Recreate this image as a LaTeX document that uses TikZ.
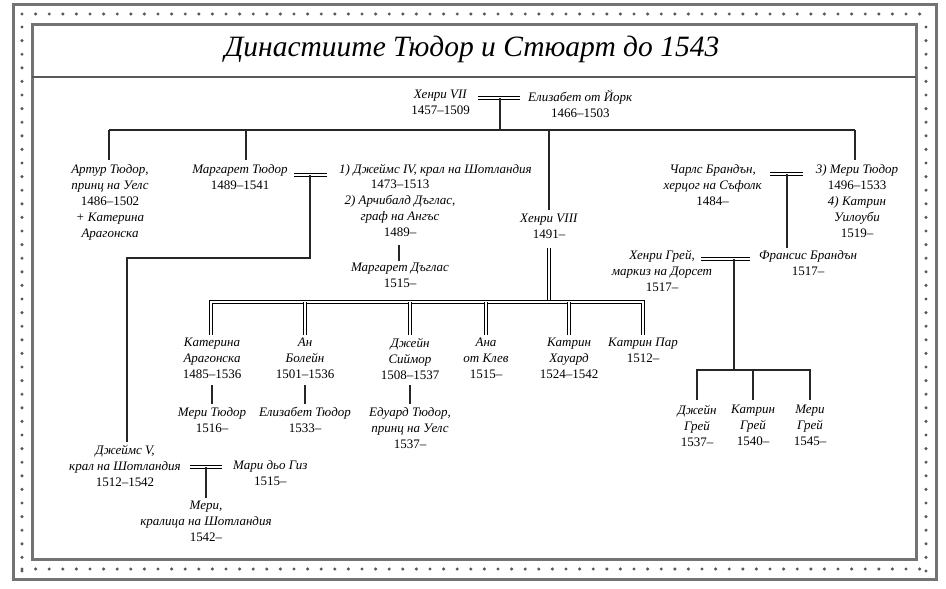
\documentclass[tikz,border=0pt]{standalone}
\usepackage{fontspec}
\setmainfont{Liberation Serif}
\newcommand{\nm}[1]{\textit{#1}}
\begin{document}
\begin{tikzpicture}[x=1pt,y=-1pt,
 t/.style={align=center,inner sep=0pt,font=\fontsize{13}{16}\selectfont},
 ln/.style={line width=1.4pt,black!85},
 mar/.style={line width=1pt,double,double distance=1.6pt},
 dl/.style={line width=1pt,double,double distance=2pt}]
\useasboundingbox (0,0) rectangle (946,589);
% frame
\draw[line width=3pt,black!55] (13,4) rectangle (936,579);
\draw[line width=3pt,black!55] (32,24) rectangle (916,559);
\foreach \i in {0,...,66} {
 \fill[black!65] (22+\i*13.6,14) circle (1.7pt);
 \fill[black!65] (22+\i*13.6,569) circle (1.7pt);}
\foreach \i in {0,...,40} {
 \fill[black!65] (22,27+\i*13.6) circle (1.7pt);
 \fill[black!65] (926,27+\i*13.6) circle (1.7pt);}
\draw[line width=1.2pt,black!65] (32,77) -- (916,77);
\node[inner sep=0pt,font=\fontsize{29.5}{32}\selectfont\itshape] (title) at (472,49) {Династиите Тюдор и Стюарт до 1543};
% generation 1
\node[t,anchor=north east] (h7) at (470,90) {\nm{Хенри VII}\\1457–1509};
\node[t,anchor=north west] (eliz) at (528,90) {\nm{Елизабет от Йорк}\\1466–1503};
\draw[mar] (478,98) -- (520,98);
\draw[ln] (500,98) -- (500,130);
\draw[ln] (109,130) -- (855,130);
\node[t,anchor=north] (arthur) at (110,164) {\nm{Артур Тюдор,}\\\nm{принц на Уелс}\\1486–1502\\\nm{+ Катерина}\\\nm{Арагонска}};
\node[t,anchor=north] (marg) at (240,164) {\nm{Маргарет Тюдор}\\1489–1541};
\node[t,anchor=north west] (j4a) at (339,164) {\nm{1) Джеймс IV, крал на Шотландия}};
\node[t,anchor=north] (j4) at (400,180) {1473–1513\\\nm{2) Арчибалд Дъглас,}\\\nm{граф на Ангъс}\\1489–};
\node[t,anchor=north] (h8) at (549,214) {\nm{Хенри VIII}\\1491–};
\node[t,anchor=north] (mary) at (857,164) {\nm{3) Мери Тюдор}\\1496–1533\\\nm{4) Катрин}\\\nm{Уилоуби}\\1519–};
\draw[ln] (109,130) -- ++(0,30);
\draw[ln] (246,130) -- ++(0,30);
\draw[ln] (549,130) -- (549,210);
\draw[ln] (855,130) -- ++(0,30);
% Margaret
\draw[mar] (294,175) -- (327,175);
\draw[ln] (310,175) -- (310,258) -- (127,258) -- (127,442);
\node[t,anchor=north] (mdoug) at (400,263) {\nm{Маргарет Дъглас}\\1515–};
\draw[ln] (399,245) -- (399,261);
% James V
\node[t,anchor=north] (j5) at (125,445) {\nm{Джеймс V,}\\\nm{крал на Шотландия}\\1512–1542};
\node[t,anchor=north west] (guise) at (233,460) {\nm{Мари дьо Гиз}\\1515–};
\draw[mar] (190,467) -- (222,467);
\node[t,anchor=north] (mqs) at (206,501) {\nm{Мери,}\\\nm{кралица на Шотландия}\\1542–};
\draw[ln] (206,467) -- (206,498);
% Henry VIII wives
\draw[dl] (549,248) -- (549,302);
\draw[dl] (211,335) -- (211,302) -- (643,302) -- (643,335);
\node[t,anchor=north] (w1) at (212,338) {\nm{Катерина}\\\nm{Арагонска}\\1485–1536};
\node[t,anchor=north] (w2) at (305,338) {\nm{Ан}\\\nm{Болейн}\\1501–1536};
\node[t,anchor=north] (w3) at (410,338) {\nm{Джейн}\\\nm{Сиймор}\\1508–1537};
\node[t,anchor=north] (w4) at (486,338) {\nm{Ана}\\\nm{от Клев}\\1515–};
\node[t,anchor=north] (w5) at (569,338) {\nm{Катрин}\\\nm{Хауард}\\1524–1542};
\node[t,anchor=north] (w6) at (643,338) {\nm{Катрин Пар}\\1512–};
\foreach \x in {305,410,486,569}
 \draw[dl] (\x,302) -- (\x,335);
\node[t,anchor=north] (c1) at (212,407) {\nm{Мери Тюдор}\\1516–};
\node[t,anchor=north] (c2) at (305,407) {\nm{Елизабет Тюдор}\\1533–};
\node[t,anchor=north] (c3) at (410,407) {\nm{Едуард Тюдор,}\\\nm{принц на Уелс}\\1537–};
\foreach \x in {212,305,410}
 \draw[ln] (\x,385) -- (\x,404);
% Brandon
\node[t,anchor=north east] (charles) at (762,164) {\nm{Чарлс Брандън,}\\\nm{херцог на Съфолк}\\1484–};
\draw[mar] (770,174) -- (803,174);
\node[t,anchor=north] (frances) at (808,250) {\nm{Франсис Брандън}\\1517–};
\draw[ln] (787,174) -- (787,248);
\node[t,anchor=north] (grey) at (662,250) {\nm{Хенри Грей,}\\\nm{маркиз на Дорсет}\\1517–};
\draw[mar] (701,259) -- (750,259);
\draw[ln] (734,259) -- (734,370);
\draw[ln] (697,400) -- (697,370) -- (810,370) -- (810,400);
\draw[ln] (753,370) -- (753,400);
\node[t,anchor=north] (g1) at (697,405) {\nm{Джейн}\\\nm{Грей}\\1537–};
\node[t,anchor=north] (g2) at (753,405) {\nm{Катрин}\\\nm{Грей}\\1540–};
\node[t,anchor=north] (g3) at (810,405) {\nm{Мери}\\\nm{Грей}\\1545–};
\end{tikzpicture}
\end{document}
